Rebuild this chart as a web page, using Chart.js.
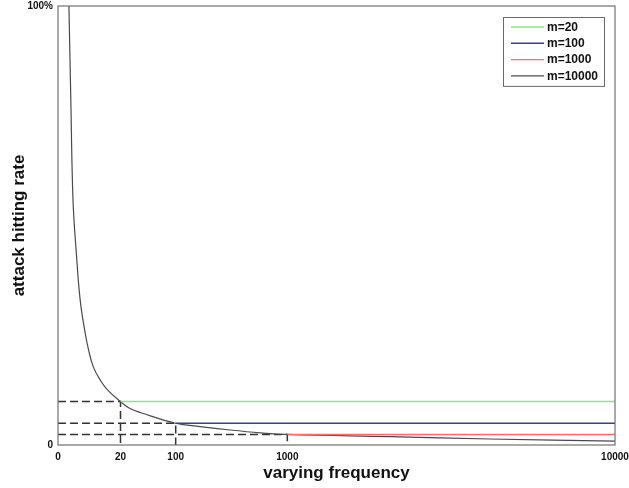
<!DOCTYPE html>
<html>
<head>
<meta charset="utf-8">
<script src="https://cdn.jsdelivr.net/npm/chart.js@4"></script>
<style>
  html, body { margin: 0; padding: 0; background: #fff; }
  #wrap { width: 629px; height: 488px; }
</style>
</head>
<body>
<div id="wrap"><canvas id="chart" width="629" height="488"></canvas></div>
<script>
// x axis tick values (the axis is stretched piecewise between them)
const xTickValues = [0, 20, 100, 1000, 10000];
const xTickLabels = ['0', '20', '100', '1000', '10000'];
// y axis ticks (percent)
const yTickValues = [0, 100];
const yTickLabels = ['0', '100%'];

// hitting rate curve for m = 10000
const curveFreq = [3.5, 4.1, 4.8, 5.8, 7.1, 8.7, 9.8, 11.3, 13.5, 15.9, 20, 33.8, 50.7, 100, 296, 538, 780, 1000, 3821, 6568, 10000];
const curveRate = [100, 78.6, 55.8, 44.4, 33.0, 25.5, 21.6, 17.8, 14.8, 12.5, 9.9, 8.3, 7.3, 4.95, 4.2, 3.42, 2.78, 2.4, 1.89, 1.37, 0.9];

// flat series: start frequency and constant rate
const seriesNames = ['m=20', 'm=100', 'm=1000'];
const seriesStart = [20, 100, 1000];
const seriesRate = [9.9, 4.95, 2.4];
const seriesColors = ['#8ee08e', '#3b3ba3', '#ff6b6b'];
const curveName = 'm=10000';
const curveColor = '#4a4a4a';

// fractional position of each x tick along the axis
const xStopFractions = [0, 0.1122, 0.2113, 0.4117, 1];

class PiecewiseLinearScale extends Chart.LinearScale {
  getPixelForValue(value) {
    if (value === null || value === undefined) return NaN;
    const s = xTickValues, f = xStopFractions;
    let i = 0;
    while (i < s.length - 2 && value > s[i + 1]) i++;
    const t = (value - s[i]) / (s[i + 1] - s[i]);
    return this.getPixelForDecimal(f[i] + t * (f[i + 1] - f[i]));
  }
  getValueForPixel(pixel) {
    const d = this.getDecimalForPixel(pixel);
    const s = xTickValues, f = xStopFractions;
    let i = 0;
    while (i < f.length - 2 && d > f[i + 1]) i++;
    const t = (d - f[i]) / (f[i + 1] - f[i]);
    return s[i] + t * (s[i + 1] - s[i]);
  }
}
PiecewiseLinearScale.id = 'piecewise';
PiecewiseLinearScale.defaults = Chart.LinearScale.defaults;
Chart.register(PiecewiseLinearScale);

const datasets = [];
seriesNames.forEach((name, i) => {
  datasets.push({
    label: name,
    data: [{ x: seriesStart[i], y: seriesRate[i] }, { x: 10000, y: seriesRate[i] }],
    borderColor: seriesColors[i],
    borderWidth: 1.4,
    pointRadius: 0,
    fill: false
  });
});
datasets.push({
  label: curveName,
  data: curveFreq.map((x, i) => ({ x, y: curveRate[i] })),
  borderColor: curveColor,
  borderWidth: 1.2,
  pointRadius: 0,
  tension: 0.4,
  fill: false
});
// dashed guides from each series start point to both axes
seriesStart.forEach((f, i) => {
  datasets.push({
    data: [{ x: 0, y: seriesRate[i] }, { x: f, y: seriesRate[i] }, { x: f, y: 0 }],
    borderColor: '#333',
    borderWidth: 1.5,
    borderDash: [8, 4],
    pointRadius: 0,
    fill: false
  });
});

const FONT = "'Liberation Sans', Arial, sans-serif";

const frameAndLegend = {
  id: 'frameAndLegend',
  afterDraw(chart) {
    const { ctx, chartArea: a } = chart;
    ctx.save();
    ctx.strokeStyle = '#707070';
    ctx.lineWidth = 1.2;
    ctx.strokeRect(a.left, a.top, a.right - a.left, a.bottom - a.top);

    const items = chart.data.datasets.filter(d => d.label);
    const rowH = 16.3, boxW = 101, boxH = 20 + rowH * (items.length - 1);
    const x0 = a.right - 11 - boxW, y0 = a.top + 11;
    ctx.fillStyle = '#fff';
    ctx.fillRect(x0, y0, boxW, boxH);
    ctx.strokeStyle = '#6a6a6a';
    ctx.lineWidth = 1;
    ctx.strokeRect(x0 + 0.5, y0 + 0.5, boxW, boxH);
    ctx.font = 'bold 12px ' + FONT;
    ctx.textBaseline = 'middle';
    ctx.textAlign = 'left';
    items.forEach((d, i) => {
      const y = y0 + 10 + i * rowH;
      ctx.strokeStyle = d.borderColor;
      ctx.lineWidth = 1.4;
      ctx.beginPath();
      ctx.moveTo(x0 + 8, y);
      ctx.lineTo(x0 + 41, y);
      ctx.stroke();
      ctx.fillStyle = '#111';
      ctx.fillText(d.label, x0 + 44, y + 0.5);
    });
    ctx.restore();
  }
};

new Chart(document.getElementById('chart'), {
  type: 'line',
  data: { datasets },
  options: {
    responsive: false,
    animation: false,
    events: [],
    layout: { padding: { top: 6, right: 14, bottom: 0, left: 0 } },
    plugins: { legend: { display: false }, tooltip: { enabled: false } },
    scales: {
      x: {
        type: 'piecewise',
        min: 0,
        max: 10000,
        grid: { display: false, drawTicks: false },
        border: { display: false },
        afterBuildTicks: s => { s.ticks = xTickValues.map(v => ({ value: v })); },
        afterFit: s => { s.height = 43; s.paddingLeft = 0; s.paddingRight = 0; },
        ticks: {
          autoSkip: false,
          maxRotation: 0,
          padding: 6,
          color: '#111',
          font: { family: FONT, size: 10, weight: 'bold' },
          callback: v => xTickLabels[xTickValues.indexOf(v)]
        },
        title: {
          display: true,
          text: 'varying frequency',
          color: '#111',
          padding: { top: 0, bottom: 4 },
          font: { family: FONT, size: 17, weight: 'bold' }
        }
      },
      y: {
        type: 'linear',
        min: 0,
        max: 100,
        grid: { display: false, drawTicks: false },
        border: { display: false },
        afterBuildTicks: s => { s.ticks = yTickValues.map(v => ({ value: v })); },
        afterFit: s => { s.width = 58; s.paddingTop = 0; s.paddingBottom = 0; },
        ticks: {
          padding: 5,
          color: '#111',
          font: { family: FONT, size: 10, weight: 'bold' },
          callback: v => yTickLabels[yTickValues.indexOf(v)]
        },
        title: {
          display: true,
          text: 'attack hitting rate',
          color: '#111',
          padding: { top: 9, bottom: 0 },
          font: { family: FONT, size: 17, weight: 'bold' }
        }
      }
    }
  },
  plugins: [frameAndLegend]
});
</script>
</body>
</html>
